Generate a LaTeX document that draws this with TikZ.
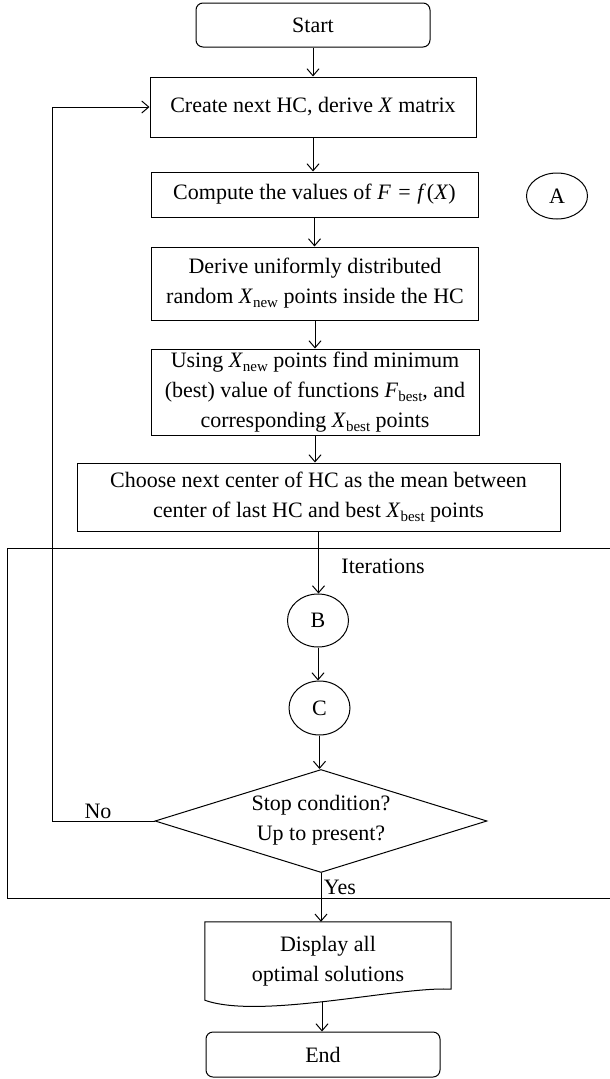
\documentclass[tikz,border=0pt]{standalone}
\usepackage{fontspec}
\setmainfont{Liberation Serif}
\usetikzlibrary{arrows.meta,shapes.geometric}
\newcommand\sbs[1]{\raisebox{-0.4ex}{\fontsize{15}{15}\selectfont #1}}
\begin{document}
\begin{tikzpicture}[x=1pt,y=-1pt,
  every node/.style={font=\fontsize{22}{30}\selectfont, inner sep=0pt},
  box/.style={draw, line width=1pt, rectangle, align=center},
  term/.style={box, rounded corners=7pt},
  conn/.style={ellipse, draw, line width=1pt},
  flow/.style={-{Straight Barb[length=7pt,width=12pt]}, line width=1pt},
  ln/.style={line width=1pt}]
\useasboundingbox (0,0) rectangle (610,1079);
\node[term, minimum width=234pt, minimum height=44pt] (start) at (313,25) {Start};
\node[box, minimum width=326pt, minimum height=60pt] (create) at (313,107) {Create next HC, derive \textit{X} matrix};
\node[box, minimum width=327pt, minimum height=45pt] (compute) at (314.5,194.5) {Compute the values of \textit{F}\kern2pt\ =\ \kern1pt\textit{f}\kern1pt(\textit{X})};
\node[conn, minimum width=61pt, minimum height=46pt] (A) at (557,196) {A};
\node[box, minimum width=327pt, minimum height=73pt] (derive) at (315,283.5) {Derive uniformly distributed\\random \textit{X}\sbs{new} points inside the HC};
\node[box, minimum width=328pt, minimum height=86pt] (using) at (315,392) {Using \textit{X}\sbs{new} points find minimum\\(best) value of functions \textit{F}\sbs{best}, and\\corresponding \textit{X}\sbs{best} points};
\node[box, minimum width=483pt, minimum height=68pt] (choose) at (318.5,497) {Choose next center of HC as the mean between\\center of last HC and best \textit{X}\sbs{best} points};
\node[conn, minimum width=61pt, minimum height=53pt] (B) at (318,620.5) {B};
\node[conn, minimum width=61pt, minimum height=54pt] (C) at (319.5,708) {C};
\node[diamond, draw, line width=1pt, minimum width=332pt, minimum height=103pt] (dec) at (321,821) {};
\node[align=center] (dectext) at (321,820) {Stop condition?\\Up to present?};
\node[minimum width=246pt, minimum height=78pt, align=center] (disp) at (328,961) {Display all\\optimal solutions};
\draw[ln] (disp.north west) -- (disp.north east) -- ([yshift=11pt]disp.south east)
  .. controls (400,986) and (260,1020) .. (disp.south west) -- cycle;
\coordinate (dispb) at (322,1002);
\node[term, minimum width=234pt, minimum height=45pt] (end) at (323,1054.5) {End};

\node (iter) at (383,566) {Iterations};
\node (no) at (98,811) {No};
\node (yes) at (340,887) {Yes};

\coordinate (tr) at (610,548);
\coordinate (tl) at (7,548);
\coordinate (bl) at (7,898);
\coordinate (br) at (610,898);
\draw[ln] (tr) -- (tl) -- (bl) -- (br);

\draw[flow] (start) -- (create);
\draw[flow] (create.south) -- (create.south |- compute.north);
\draw[flow] (compute.south) -- (compute.south |- derive.north);
\draw[flow] (derive.south) -- (derive.south |- using.north);
\draw[flow] (using.south) -- (using.south |- choose.north);
\draw[flow] (choose.south) -- (choose.south |- B.north);
\draw[flow] (B.south) -- (B.south |- C.north);
\draw[flow] (C.south) -- (C.south |- dec.north);
\draw[flow] (dec.south) -- (dec.south |- disp.north);
\draw[flow] (dispb) -- (dispb |- end.north);
\draw[flow] (dec.west) -- (52,821) -- (52,107) -- (create.west);
\end{tikzpicture}
\end{document}
